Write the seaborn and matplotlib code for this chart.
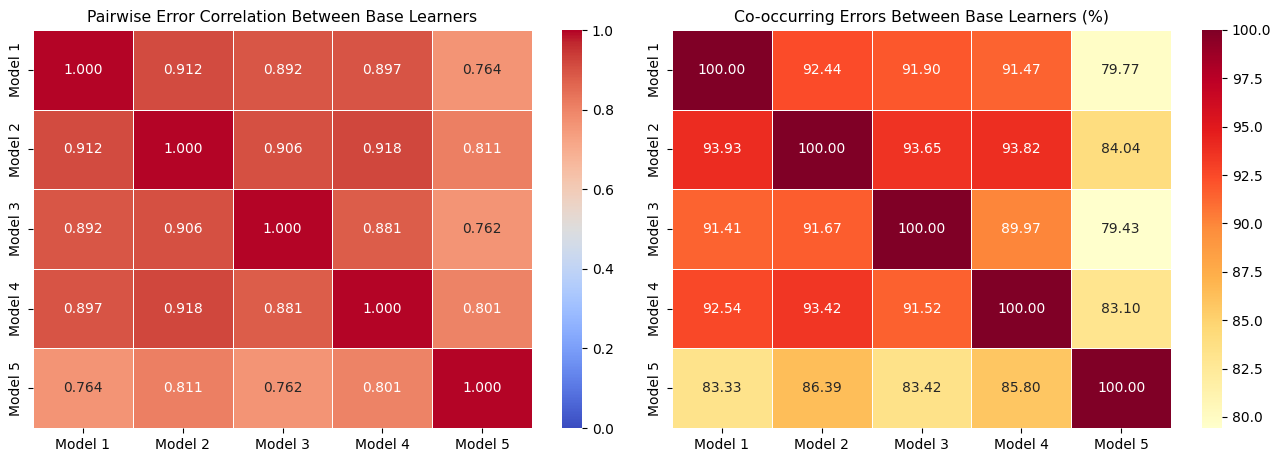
import numpy as np
import pandas as pd
import matplotlib
matplotlib.use("Agg")
import matplotlib.pyplot as plt
import seaborn as sns

models = ["Model 1", "Model 2", "Model 3", "Model 4", "Model 5"]

# Pairwise correlation of error indicators
corr_row1 = [1.000, 0.912, 0.892, 0.897, 0.764]
corr_row2 = [0.912, 1.000, 0.906, 0.918, 0.811]
corr_row3 = [0.892, 0.906, 1.000, 0.881, 0.762]
corr_row4 = [0.897, 0.918, 0.881, 1.000, 0.801]
corr_row5 = [0.764, 0.811, 0.762, 0.801, 1.000]

# Share of row-model errors also made by column model (%)
co_row1 = [100.00, 92.44, 91.90, 91.47, 79.77]
co_row2 = [93.93, 100.00, 93.65, 93.82, 84.04]
co_row3 = [91.41, 91.67, 100.00, 89.97, 79.43]
co_row4 = [92.54, 93.42, 91.52, 100.00, 83.10]
co_row5 = [83.33, 86.39, 83.42, 85.80, 100.00]

corr = pd.DataFrame([corr_row1, corr_row2, corr_row3, corr_row4, corr_row5],
                    index=models, columns=models)
co = pd.DataFrame([co_row1, co_row2, co_row3, co_row4, co_row5],
                  index=models, columns=models)

W, H = 1282, 454
fig = plt.figure(figsize=(W / 100, H / 100), dpi=100)


def px_axes(x0, x1, y0, y1):
    return fig.add_axes([x0 / W, 1 - y1 / H, (x1 - x0) / W, (y1 - y0) / H])


ax_l = px_axes(33, 532, 30, 428)
cax_l = px_axes(562, 582, 30, 428)
ax_r = px_axes(672, 1171, 30, 428)
cax_r = px_axes(1202, 1222, 30, 428)

sns.heatmap(corr, ax=ax_l, cbar_ax=cax_l, annot=True, fmt=".3f", cmap="coolwarm",
            vmin=0, vmax=1, linewidths=0.5, linecolor="white")
ax_l.set_title("Pairwise Error Correlation Between Base Learners", fontsize=11.3)

sns.heatmap(co, ax=ax_r, cbar_ax=cax_r, annot=True, fmt=".2f", cmap="YlOrRd",
            linewidths=0.5, linecolor="white")
ax_r.set_title("Co-occurring Errors Between Base Learners (%)", fontsize=11.3)

fig.savefig("out.png", dpi=100)
